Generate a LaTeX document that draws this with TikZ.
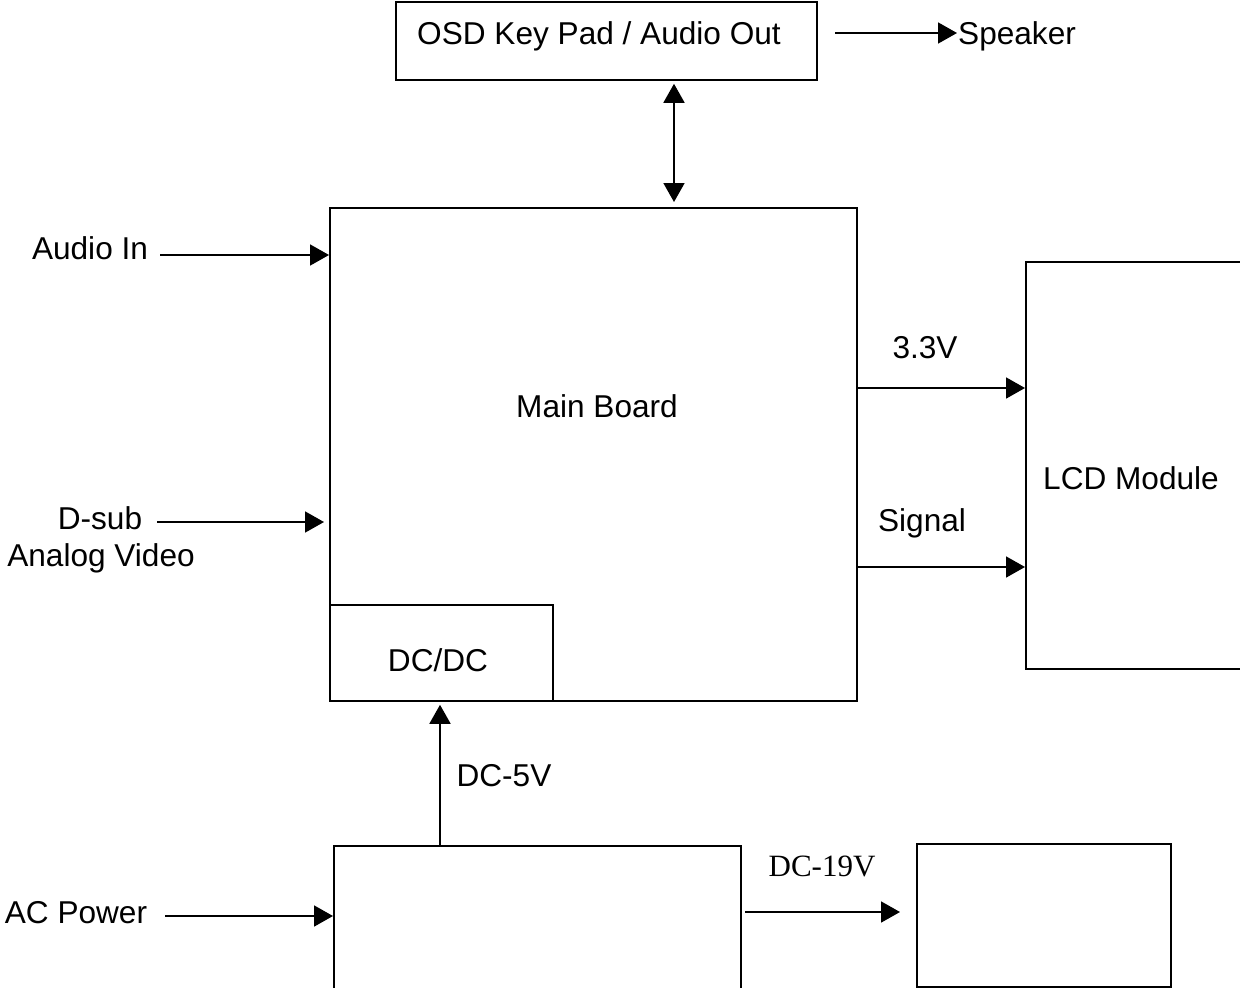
\documentclass[tikz,border=0pt]{standalone}
\usepackage{fontspec}
\setmainfont{Liberation Sans}
\newfontfamily\timesf{Liberation Serif}
\usetikzlibrary{arrows.meta}
\begin{document}
\begin{tikzpicture}[x=1pt,y=-1pt,
  box/.style={draw, line width=1.8pt, inner sep=0pt, anchor=north west},
  lbl/.style={font=\fontsize{31.6}{36}\selectfont, inner sep=0pt, anchor=base},
  arr/.style={line width=1.8pt, -{Triangle[length=19pt,width=21pt]}},
  darr/.style={line width=1.8pt, {Triangle[length=19pt,width=21pt]}-{Triangle[length=19pt,width=21pt]}},
]
\useasboundingbox (0,0) rectangle (1240,988);
% boxes
\node[box, minimum width=421pt, minimum height=78pt] (osd) at (395,1) {};
\node[box, minimum width=527pt, minimum height=493pt] (main) at (329,207) {};
\node[box, minimum width=223pt, minimum height=96pt] (dcdc) at (329,604) {};
\node[box, minimum width=235pt, minimum height=407pt] (lcd) at (1025,261) {};
\node[box, minimum width=407pt, minimum height=160pt] (psu) at (333,845) {};
\node[box, minimum width=254pt, minimum height=143pt] (load) at (916,843) {};
% labels
\node[lbl] (osdt) at (599,44) {OSD Key Pad / Audio Out};
\node[lbl, anchor=base west] (spk) at (958,44) {Speaker};
\node[lbl] (mbt) at (597,417) {Main Board};
\node[lbl] (dcdct) at (438,671) {DC/DC};
\node[lbl] (lcdt) at (1131,489) {LCD Module};
\node[lbl] (ain) at (90,259) {Audio In};
\node[lbl] (dsub) at (100,529) {D-sub};
\node[lbl] (avid) at (101,566) {Analog Video};
\node[lbl] (v33) at (925,358) {3.3V};
\node[lbl] (sig) at (922,531) {Signal};
\node[lbl] (dc5) at (504,786) {DC-5V};
\node[lbl] (acp) at (76,923) {AC Power};
\node[lbl, font=\timesf\fontsize{31}{36}\selectfont] (dc19) at (822,876) {DC-19V};
% connector free ends
\coordinate (spkS) at (835,33);
\coordinate (spkE) at (957,33);
\coordinate (busX) at (674,0);
\coordinate (ainS) at (160,255);
\coordinate (dsS) at (157,522);
\coordinate (v33Y) at (0,388);
\coordinate (sigY) at (0,567);
\coordinate (dc5X) at (440,0);
\coordinate (acS) at (165,916);
\coordinate (dc19S) at (745,912);
% connectors
\draw[arr] (spkS) -- (spkE);
\draw[darr, shorten <=3pt, shorten >=5pt] (busX |- osd.south) -- (busX |- main.north);
\draw[arr] (ainS) -- (ainS -| main.west);
\draw[arr, shorten >=5pt] (dsS) -- (dsS -| main.west);
\draw[arr] (v33Y -| main.east) -- (v33Y -| lcd.west);
\draw[arr] (sigY -| main.east) -- (sigY -| lcd.west);
\draw[arr, shorten >=3pt] (dc5X |- psu.north) -- (dc5X |- dcdc.south);
\draw[arr] (acS) -- (acS -| psu.west);
\draw[arr, shorten >=16pt] (dc19S) -- (dc19S -| load.west);
\end{tikzpicture}
\end{document}
